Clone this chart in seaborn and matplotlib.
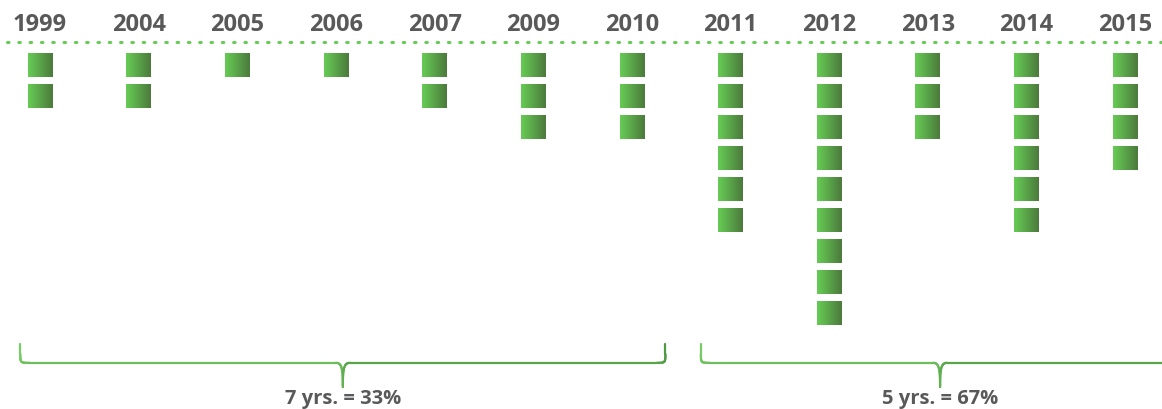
import matplotlib
matplotlib.use("Agg")
import matplotlib.pyplot as plt
import numpy as np
import seaborn as sns
import pandas as pd
from matplotlib.collections import LineCollection
from matplotlib.colors import LinearSegmentedColormap

# data
years = ['1999', '2004', '2005', '2006', '2007', '2009', '2010',
         '2011', '2012', '2013', '2014', '2015']
counts = [2, 2, 1, 1, 2, 3, 3, 6, 9, 3, 6, 4]
groups = [(0, 6), (7, 11)]
group_labels = ['7 yrs. = 33%', '5 yrs. = 67%']

sns.set_style("white")
plt.rcParams['font.family'] = ['Open Sans', 'DejaVu Sans']

fig = plt.figure(figsize=(11.62, 4.10), dpi=100)
ax = fig.add_axes([0, 0, 1, 1])
ax.set_xlim(-0.406, 11.375)
ax.set_ylim(11.1, -2.13)
ax.axis('off')

# one row per square
df = pd.DataFrame([(i, r) for i, c in enumerate(counts) for r in range(c)],
                  columns=['col', 'row'])
sns.scatterplot(data=df, x='col', y='row', marker='s', s=1, color='white',
                linewidth=0, ax=ax, legend=False)

grad = LinearSegmentedColormap.from_list('g', ['#66cc55', '#4c7a3c'])
g = np.linspace(0, 1, 64).reshape(1, -1)
w, h = 0.125, 0.387
for _, p in df.iterrows():
    ax.imshow(g, cmap=grad, aspect='auto', interpolation='bilinear',
              extent=(p.col - w, p.col + w, p.row + h, p.row - h), zorder=2)

# year labels + dotted rule
for i, y in enumerate(years):
    ax.text(i, -1.33, y, ha='center', va='center', fontsize=17,
            fontweight='bold', color='#595959')
ax.plot([-0.33, 11.375], [-0.742, -0.742], color='#66cc55', lw=2.2,
        linestyle=(0, (0.5, 3.2)), dash_capstyle='round', solid_capstyle='round')


def bez(p0, p1, p2, p3, n=20):
    t = np.linspace(0, 1, n)[:, None]
    p0, p1, p2, p3 = map(np.array, (p0, p1, p2, p3))
    return (1 - t) ** 3 * p0 + 3 * (1 - t) ** 2 * t * p1 + 3 * (1 - t) * t ** 2 * p2 + t ** 3 * p3


px, py = 1 / 98.6, 1 / 31.0
top, line, tip_y = 9.0, 9.61, 10.39
pads = [(0.2, 0.34), (0.3, 0.55)]
brace_cols = LinearSegmentedColormap.from_list('b', ['#77cc66', '#4f9a40'])
for (a, b), (pl, pr), lab in zip(groups, pads, group_labels):
    x0, x1 = a - pl, b + pr
    xm = (x0 + x1) / 2
    r = 9
    pts = [np.array([[x0, top]])]
    pts.append(bez((x0, line - r * py), (x0, line), (x0, line), (x0 + r * px, line)))
    pts.append(bez((xm - 7 * px, line), (xm - 1 * px, line), (xm, line + 6 * py), (xm, tip_y)))
    pts.append(bez((xm, tip_y), (xm, line + 6 * py), (xm + 1 * px, line), (xm + 7 * px, line)))
    pts.append(bez((x1 - r * px, line), (x1, line), (x1, line), (x1, line - r * py)))
    pts.append(np.array([[x1, top]]))
    P = np.vstack(pts)
    segs = np.stack([P[:-1], P[1:]], axis=1)
    lc = LineCollection(segs, colors=brace_cols(np.linspace(0, 1, len(segs))),
                        linewidth=1.6, capstyle='round', joinstyle='round')
    ax.add_collection(lc)
    ax.text(xm, 10.76, lab, ha='center', va='center', fontsize=14.5,
            fontweight='bold', color='#595959')

fig.savefig('out.png', dpi=100)
